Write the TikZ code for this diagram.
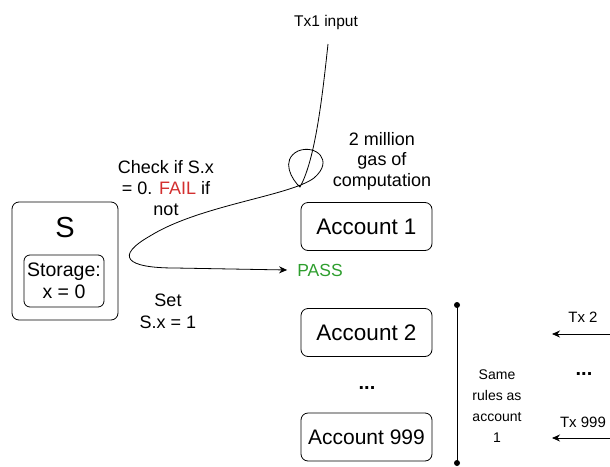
\documentclass[tikz,border=0pt]{standalone}
\usepackage{fontspec}
\setmainfont{Liberation Sans}
\usetikzlibrary{arrows.meta}
\definecolor{failred}{HTML}{D32F2F}
\definecolor{passgreen}{HTML}{2E9E2E}
\newcommand{\fs}[2]{\fontsize{#1}{#2}\selectfont}
\begin{document}
\begin{tikzpicture}[x=1pt,y=-1pt,
  box/.style={draw,rounded corners=7pt,line width=0.8pt,inner sep=0pt},
  lbl/.style={align=center,inner sep=0pt},
  acct/.style={box,minimum width=131pt,minimum height=48pt,font=\fs{22.5}{26}},
  tip/.style={-{Stealth[length=8pt,width=7pt]},line width=0.8pt}]
\useasboundingbox (0,0) rectangle (610,466);

% Contract S with its storage
\node[box,minimum width=106pt,minimum height=118pt] (S) at (65,261) {};
\node[font=\fs{29}{32},inner sep=0pt] (Sname) at (65,228) {S};
\node[box,rounded corners=6pt,minimum width=80pt,minimum height=52pt,
      align=center,font=\fs{19.5}{21.5}] (store) at (64,281) {Storage:\\x = 0};

% Accounts
\node[acct] (a1) at (366.5,226.5) {Account 1};
\node[acct] (a2) at (366.5,332.5) {Account 2};
\node[font=\fs{20}{24}\bfseries,inner sep=0pt] (dots1) at (367,388) {...};
\node[acct,font=\fs{21}{24}] (a999) at (366.5,437) {Account 999};

% Bracket for the other accounts
\coordinate (btop) at (457,305);
\coordinate (bbot) at (457,463);
\draw[line width=0.8pt] (btop) -- (bbot);
\fill (btop) circle (3pt) (bbot) circle (3pt);
\node[lbl,font=\fs{14}{21}] (same) at (497,406) {Same\\rules as\\account\\1};

% Incoming transactions
\node[lbl,font=\fs{15}{18}] (tx2) at (583,317) {Tx 2};
\coordinate (tx2s) at (611,334);
\coordinate (tx2e) at (552,334);
\draw[tip] (tx2s) -- (tx2e);
\node[font=\fs{20}{24}\bfseries,inner sep=0pt] (dots2) at (584,374) {...};
\node[lbl,font=\fs{15}{18}] (tx999) at (583,422) {Tx 999};
\coordinate (tx9s) at (611,438);
\coordinate (tx9e) at (552,438);
\draw[tip] (tx9s) -- (tx9e);

% Labels along the first transaction
\node[lbl,font=\fs{15.5}{18}] (tx1) at (326,22) {Tx1 input};
\node[lbl,font=\fs{18}{20.5}] (gas) at (382,161) {2 million\\gas of\\computation};
\node[lbl,font=\fs{18}{21}] (check) at (166,188) {Check if S.x\\= 0. \textcolor{failred}{FAIL} if\\not};
\node[inner sep=0pt,text=passgreen,font=\fs{17.5}{20}] (pass) at (320,270) {PASS};
\node[lbl,font=\fs{18}{22}] (set) at (168,311) {Set\\S.x = 1};

% Path of Tx1 with its loop
\coordinate (start) at (328,44);
\draw[tip] (start) .. controls (322,100) and (315,160) .. (300,187)
  .. controls (292,180) and (280,160) .. (298,151)
  .. controls (315,144) and (335,160) .. (314,178)
  .. controls (290,196) and (200,205) .. (150,236)
  .. controls (115,256) and (125,268) .. (175,268)
  -- ([xshift=-10pt]pass.west);
\end{tikzpicture}
\end{document}
